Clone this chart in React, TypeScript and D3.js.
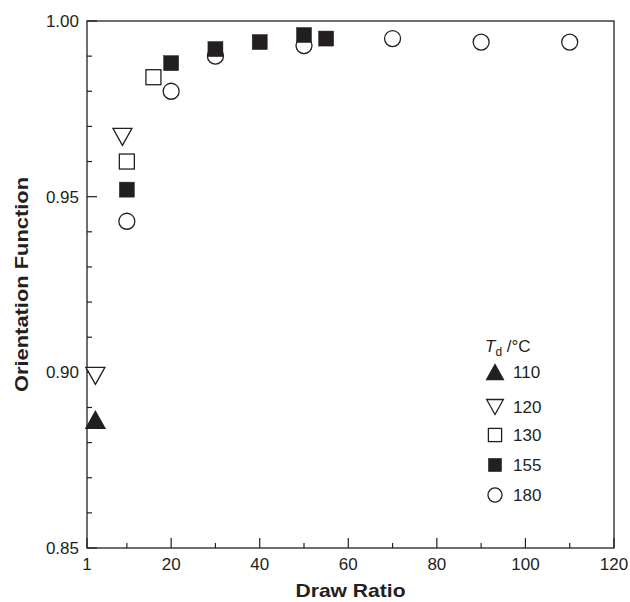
import * as d3 from 'd3';

// Draw ratio / orientation function values per drawing temperature
const drawRatio110 = [2.9];
const orient110 = [0.8865];
const drawRatio120 = [2.9, 9];
const orient120 = [0.899, 0.967];
const drawRatio130 = [10, 16];
const orient130 = [0.96, 0.984];
const drawRatio155 = [10, 20, 30, 40, 50, 55];
const orient155 = [0.952, 0.988, 0.992, 0.994, 0.996, 0.995];
const drawRatio180 = [10, 20, 30, 50, 70, 90, 110];
const orient180 = [0.943, 0.98, 0.99, 0.993, 0.995, 0.994, 0.994];

const legendLabels = ['110', '120', '130', '155', '180'];
const xMajorTicks = [1, 20, 40, 60, 80, 100, 120];
const xMinorTicks = [10, 30, 50, 70, 90, 110];
const yMajorTicks = [0.85, 0.9, 0.95, 1.0];
const yMinorTicks = d3.range(86, 100).map((v) => v / 100).filter((v) => !yMajorTicks.includes(v));

const ink = '#231f20';
const font = 'Liberation Sans, Arial, sans-serif';

type Shape = 'triUp' | 'triDown' | 'square' | 'squareFilled' | 'circle';

function Marker({ shape, x, y, s = 1 }: { shape: Shape; x: number; y: number; s?: number }) {
  if (shape === 'circle') {
    return <circle cx={x} cy={y} r={8 * s} fill="#fff" stroke={ink} strokeWidth={1.3} />;
  }
  if (shape === 'square' || shape === 'squareFilled') {
    const a = 15 * s;
    return (
      <rect
        x={x - a / 2}
        y={y - a / 2}
        width={a}
        height={a}
        fill={shape === 'square' ? '#fff' : ink}
        stroke={ink}
        strokeWidth={shape === 'square' ? 1.3 : 0.5}
      />
    );
  }
  const w = 19 * s;
  const h = 17 * s;
  const d =
    shape === 'triUp'
      ? `M${x},${y - h / 2}L${x + w / 2},${y + h / 2}L${x - w / 2},${y + h / 2}Z`
      : `M${x},${y + h / 2}L${x + w / 2},${y - h / 2}L${x - w / 2},${y - h / 2}Z`;
  return <path d={d} fill={shape === 'triUp' ? ink : '#fff'} stroke={ink} strokeWidth={1.3} strokeLinejoin="miter" />;
}

export default function App() {
  const width = 630;
  const height = 602;
  const margin = { top: 21, right: 16, bottom: 54, left: 87 };
  const x = d3.scaleLinear().domain([1, 120]).range([margin.left, width - margin.right]);
  const y = d3.scaleLinear().domain([0.85, 1.0]).range([height - margin.bottom, margin.top]);
  const x0 = x.range()[0];
  const x1 = x.range()[1];
  const y0 = y.range()[0];
  const y1 = y.range()[1];

  // drawn back to front: circles sit behind the filled squares
  const series: { shape: Shape; xs: number[]; ys: number[] }[] = [
    { shape: 'circle', xs: drawRatio180, ys: orient180 },
    { shape: 'square', xs: drawRatio130, ys: orient130 },
    { shape: 'triDown', xs: drawRatio120, ys: orient120 },
    { shape: 'triUp', xs: drawRatio110, ys: orient110 },
    { shape: 'squareFilled', xs: drawRatio155, ys: orient155 },
  ];
  const legendShapes: Shape[] = ['triUp', 'triDown', 'square', 'squareFilled', 'circle'];
  const legendRows = [372, 407, 435, 465, 495];

  return (
    <svg width={width} height={height} style={{ position: 'absolute', left: 0, top: 0 }}>
      <rect width={width} height={height} fill="#fff" />
      {/* frame */}
      <rect x={x0} y={y1} width={x1 - x0} height={y0 - y1} fill="none" stroke={ink} strokeWidth={1.3} />

      {/* x ticks */}
      {xMajorTicks.map((t) => (
        <g key={'xm' + t}>
          <line x1={x(t)} x2={x(t)} y1={y0} y2={y0 - 10} stroke={ink} strokeWidth={1.2} />
          <text x={x(t)} y={570} textAnchor="middle" fontSize={17} fontFamily={font} fill={ink}>
            {t}
          </text>
        </g>
      ))}
      {xMinorTicks.map((t) => (
        <line key={'xn' + t} x1={x(t)} x2={x(t)} y1={y0} y2={y0 - 5} stroke={ink} strokeWidth={1.2} />
      ))}

      {/* y ticks */}
      {yMajorTicks.map((t) => (
        <g key={'ym' + t}>
          <line x1={x0} x2={x0 + 10} y1={y(t)} y2={y(t)} stroke={ink} strokeWidth={1.2} />
          <text x={79} y={y(t) + 6} textAnchor="end" fontSize={17} fontFamily={font} fill={ink}>
            {t.toFixed(2)}
          </text>
        </g>
      ))}
      {yMinorTicks.map((t) => (
        <line key={'yn' + t} x1={x0} x2={x0 + 5} y1={y(t)} y2={y(t)} stroke={ink} strokeWidth={1.2} />
      ))}

      {/* axis titles */}
      <text
        x={(x0 + x1) / 2}
        y={597}
        textAnchor="middle"
        fontSize={19}
        fontWeight="bold"
        fontFamily={font}
        fill={ink}
        textLength={110}
        lengthAdjust="spacingAndGlyphs"
      >
        Draw Ratio
      </text>
      <text
        transform={`translate(28, ${(y0 + y1) / 2}) rotate(-90)`}
        textAnchor="middle"
        fontSize={19}
        fontWeight="bold"
        fontFamily={font}
        fill={ink}
        textLength={215}
        lengthAdjust="spacingAndGlyphs"
      >
        Orientation Function
      </text>

      {/* data */}
      {series.map((s) =>
        s.xs.map((v, i) => <Marker key={s.shape + i} shape={s.shape} x={x(v)} y={y(s.ys[i])} />)
      )}

      {/* legend */}
      <text x={485} y={352} fontSize={17} fontFamily={font} fill={ink}>
        <tspan fontStyle="italic">T</tspan>
        <tspan fontSize={12} dy={4}>d</tspan>
        <tspan dy={-4}> /°C</tspan>
      </text>
      {legendShapes.map((sh, i) => (
        <g key={'lg' + i}>
          <Marker shape={sh} x={495} y={legendRows[i]} s={0.88} />
          <text x={513} y={legendRows[i] + 6} fontSize={17} fontFamily={font} fill={ink}>
            {legendLabels[i]}
          </text>
        </g>
      ))}
    </svg>
  );
}
